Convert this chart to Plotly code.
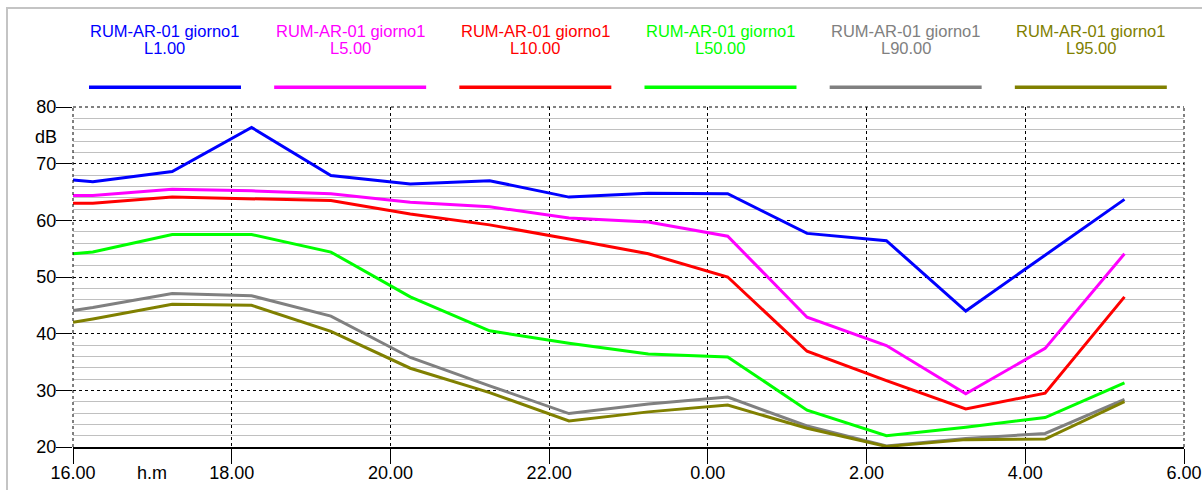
import plotly.graph_objects as go

# Sampling times in hours (values past 24 belong to the following morning)
hours = [16.0, 16.25, 17.25, 18.25, 19.25, 20.25, 21.25, 22.25, 23.25,
         24.25, 25.25, 26.25, 27.25, 28.25, 29.25]

# Percentile levels in dB
L1 = [67.1, 66.8, 68.6, 76.4, 67.9, 66.4, 67.0, 64.1, 64.8, 64.7, 57.7, 56.4, 44.0, 53.8, 63.7]
L5 = [64.4, 64.4, 65.5, 65.2, 64.7, 63.2, 62.4, 60.4, 59.7, 57.2, 42.9, 37.9, 29.4, 37.4, 54.1]
L10 = [63.0, 63.0, 64.1, 63.8, 63.5, 61.1, 59.2, 56.7, 54.1, 50.0, 36.9, 31.7, 26.7, 29.5, 46.5]
L50 = [54.1, 54.4, 57.5, 57.5, 54.4, 46.5, 40.5, 38.3, 36.4, 35.9, 26.5, 22.0, 23.5, 25.2, 31.3]
L90 = [44.1, 44.6, 47.1, 46.7, 43.1, 35.8, 30.8, 25.9, 27.6, 28.8, 23.7, 20.2, 21.5, 22.4, 28.4]
L95 = [42.0, 42.6, 45.2, 45.0, 40.4, 33.9, 29.6, 24.6, 26.2, 27.4, 23.3, 20.1, 21.3, 21.4, 28.0]

station = "RUM-AR-01 giorno1"
level_names = ["L1.00", "L5.00", "L10.00", "L50.00", "L90.00", "L95.00"]
series = [L1, L5, L10, L50, L90, L95]
colors = ["#0000ff", "#ff00ff", "#ff0000", "#00ff00", "#808080", "#808000"]

tick_hours = [16, 18, 20, 22, 24, 26, 28, 30]
tick_labels = ["16.00", "18.00", "20.00", "22.00", "0.00", "2.00", "4.00", "6.00"]

FONT = "Arial, Liberation Sans, sans-serif"

fig = go.Figure()
for name, vals, col in zip(level_names, series, colors):
    fig.add_trace(go.Scatter(
        x=hours, y=vals, mode="lines", name=f"{station} {name}",
        line=dict(color=col, width=3), showlegend=False, hoverinfo="x+y",
    ))

shapes = []
annotations = []

# Outer light-gray frame
shapes.append(dict(type="rect", xref="paper", yref="paper",
                   x0=-0.0594, x1=1.06, y0=-0.25, y1=1.2912,
                   line=dict(color="#c4c4c4", width=2), layer="below"))

# Dashed plot border on left, top and right
dash_line = dict(color="black", width=1, dash="3px,3px")
shapes.append(dict(type="line", xref="paper", yref="paper", x0=0, x1=0, y0=0, y1=1, line=dash_line))
shapes.append(dict(type="line", xref="paper", yref="paper", x0=1, x1=1, y0=0, y1=1, line=dash_line))
shapes.append(dict(type="line", xref="paper", yref="paper", x0=0, x1=1, y0=1, y1=1, line=dash_line))

# Legend: two text lines above a line sample, six equal columns
for i, (name, col) in enumerate(zip(level_names, colors)):
    cx = 0.0828 + i / 6
    annotations.append(dict(xref="paper", yref="paper", x=cx, y=1.2235, text=station,
                            showarrow=False, xanchor="center", yanchor="middle",
                            font=dict(family=FONT, size=16.5, color=col)))
    annotations.append(dict(xref="paper", yref="paper", x=cx, y=1.1735, text=name,
                            showarrow=False, xanchor="center", yanchor="middle",
                            font=dict(family=FONT, size=16.5, color=col)))
    shapes.append(dict(type="line", xref="paper", yref="paper",
                       x0=cx - 0.0684, x1=cx + 0.0684, y0=1.058, y1=1.058,
                       line=dict(color=col, width=3.5)))

# Axis unit labels
annotations.append(dict(xref="paper", yref="paper", x=-0.0243, y=0.9126, text="dB",
                        showarrow=False, xanchor="center", yanchor="middle",
                        font=dict(family=FONT, size=18, color="black")))
annotations.append(dict(xref="paper", yref="paper", x=0.0711, y=-0.0765, text="h.m",
                        showarrow=False, xanchor="center", yanchor="middle",
                        font=dict(family=FONT, size=18, color="black")))

fig.update_layout(
    width=1202, height=490,
    margin=dict(l=73, r=18, t=107, b=43, autoexpand=False),
    paper_bgcolor="white", plot_bgcolor="white",
    font=dict(family=FONT, size=18, color="black"),
    shapes=shapes, annotations=annotations,
    xaxis=dict(
        range=[16, 30], tickmode="array", tickvals=tick_hours, ticktext=tick_labels,
        showgrid=True, gridcolor="black", gridwidth=1, griddash="3px,3px",
        ticks="outside", ticklen=15, tickcolor="black", tickwidth=1,
        showline=True, linecolor="black", linewidth=1.5,
        zeroline=False, tickfont=dict(size=18), automargin=False,
        ticklabelstandoff=-6,
    ),
    yaxis=dict(
        range=[20, 80], tickmode="linear", tick0=20, dtick=10,
        showgrid=True, gridcolor="black", gridwidth=1, griddash="3px,3px",
        ticks="outside", ticklen=16, tickcolor="black", tickwidth=1,
        showline=False, zeroline=False, tickfont=dict(size=18),
        ticklabelstandoff=-4, automargin=False,
        minor=dict(dtick=2, tick0=20, showgrid=True, gridcolor="#c0c0c0",
                   gridwidth=1, griddash="solid", ticks=""),
    ),
)

fig.write_html("out.html")
